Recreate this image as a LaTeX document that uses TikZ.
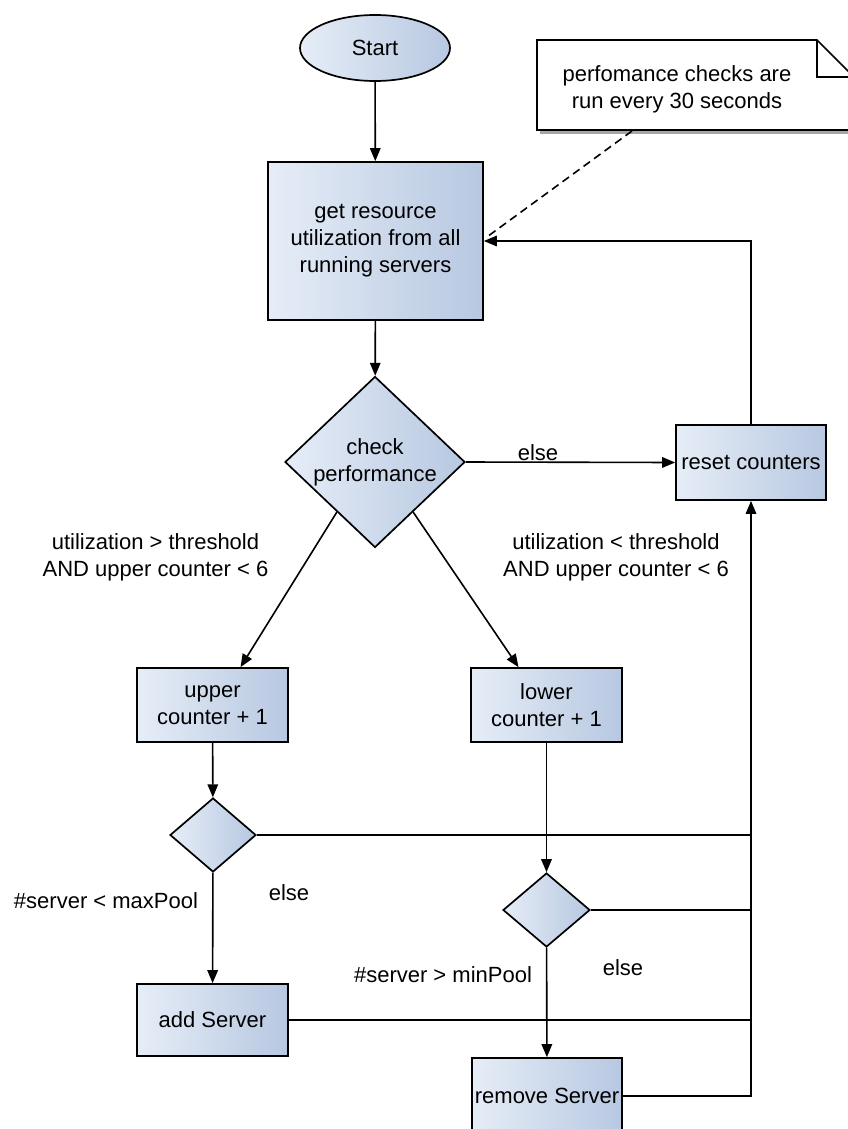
\documentclass[tikz,border=0pt]{standalone}
\usepackage{fontspec}
\setmainfont{Liberation Sans}
\usetikzlibrary{shapes.geometric,arrows.meta,shadows,calc}
\definecolor{gl}{HTML}{E6EDF7}
\definecolor{gr}{HTML}{B7C8E1}
\begin{document}
\begin{tikzpicture}[x=1pt,y=-1pt,
  txt/.style={font=\fontsize{22}{27}\selectfont, align=center, inner sep=0pt},
  base/.style={txt, draw=black, line width=1.7pt, left color=gl, right color=gr},
  procbox/.style 2 args={base, rectangle, minimum width=#1pt, minimum height=#2pt},
  decide/.style 2 args={base, diamond, minimum width=#1pt, minimum height=#2pt},
  ln/.style={draw=black, line width=1.6pt},
  arr/.style={ln, -{Triangle[length=13pt,width=10.5pt]}}]
\useasboundingbox (0,0) rectangle (848,1129);

% note
\path[draw=black, line width=1.6pt, fill=white,
  drop shadow={shadow xshift=3pt, shadow yshift=-4pt, opacity=0.35, fill=black}]
  (537,40) -- (817,40) -- (854,77) -- (854,130) -- (537,130) -- cycle;
\draw[ln] (817,40) -- (817,77) -- (854,77);
\node[txt] (note) at (677,89) {perfomance checks are\\run every 30 seconds};
\coordinate (nb) at (632,131);

% nodes
\node[base, ellipse, minimum width=150pt, minimum height=66pt] (start) at (375,48) {Start};
\node[procbox={215}{158}] (b1) at (375.5,241) {get resource\\utilization from all\\running servers};
\node[decide={180}{171}] (d1) at (375,462) {check\\performance};
\node[procbox={150}{75}] (rc) at (751,462.5) {reset counters};
\node[procbox={151}{74}] (up) at (212.5,705) {upper\\counter + 1};
\node[procbox={151}{74}] (lo) at (546.5,705) {lower\\counter + 1};
\node[decide={86}{74}] (d2) at (213,835) {};
\node[decide={87}{74}] (d3) at (546.5,910) {};
\node[procbox={151}{72}] (add) at (212.5,1020) {add Server};
\node[procbox={150}{76}] (rm) at (547,1096) {remove Server};

% labels
\node[txt] (l1) at (538,453) {else};
\node[txt] (l2) at (155.5,557) {utilization > threshold\\AND upper counter < 6};
\node[txt] (l3) at (616,557) {utilization < threshold\\AND upper counter < 6};
\node[txt] (l4) at (106,901) {\#server < maxPool};
\node[txt] (l5) at (289,893) {else};
\node[txt] (l6) at (443,975) {\#server > minPool};
\node[txt] (l7) at (623,968) {else};

% connectors
\draw[ln, dashed, dash pattern=on 8pt off 5pt] (nb) -- ([yshift=4pt,xshift=3pt]b1.east);
\draw[arr] (start) -- (b1);
\draw[arr] (b1) -- (d1);
\draw[arr] (d1.east) -- (rc.west);
\draw[arr] (rc.north) |- (b1.east);
\draw[arr] ($(d1.south)!0.42!(d1.west)$) -- ([xshift=28pt]up.north);
\draw[arr] ($(d1.south)!0.42!(d1.east)$) -- ([xshift=-28pt]lo.north);
\draw[arr] (up) -- (d2);
\draw[arr] (d2) -- (add);
\draw[arr] (lo) -- (d3);
\draw[arr] (d3) -- (rm);
\draw[ln] (d2.east) -- (d2.east -| rc.south);
\draw[ln] (d3.east) -- (d3.east -| rc.south);
\draw[ln] (add.east) -- (add.east -| rc.south);
\draw[arr] (rm.east) -| (rc.south);
\end{tikzpicture}
\end{document}
